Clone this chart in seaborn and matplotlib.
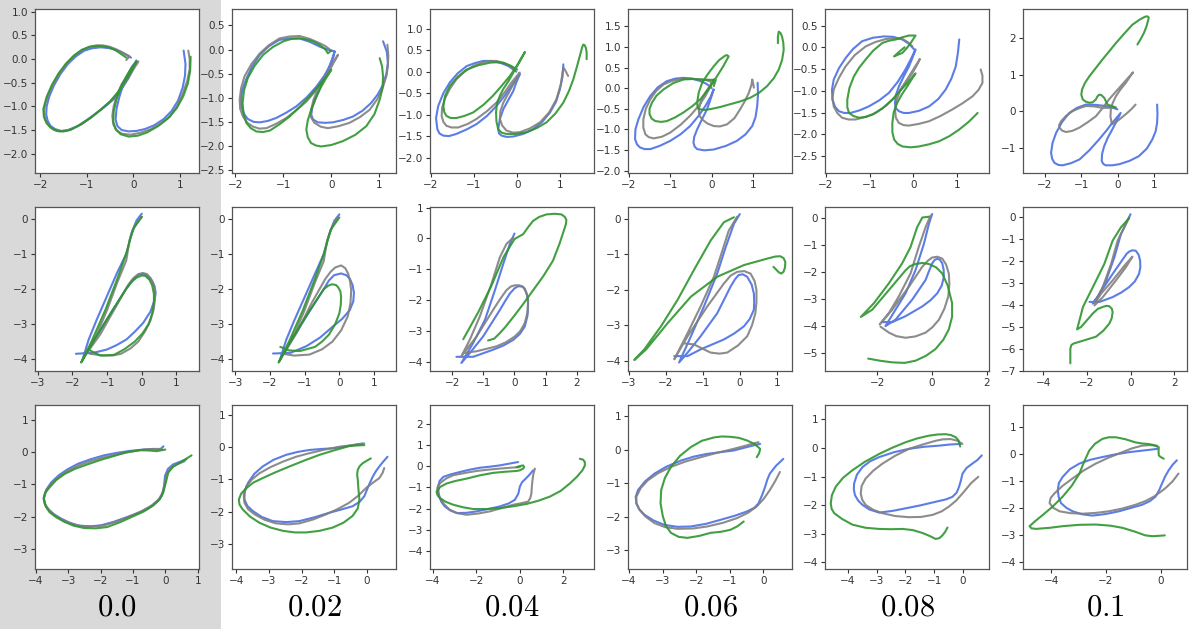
import matplotlib
matplotlib.use("Agg")
import matplotlib.pyplot as plt
from matplotlib.patches import Rectangle
from matplotlib.ticker import MultipleLocator
import pandas as pd
import seaborn as sns

sns.set_style("ticks")
plt.rcParams["font.family"] = ["DejaVu Sans"]
plt.rcParams["mathtext.fontset"] = "cm"

# noise level of each column
noise_labels = ["0.0", "0.02", "0.04", "0.06", "0.08", "0.1"]
series_names = ["blue", "gray", "green"]

# ---- row 1 : letter "a" ----
a0_blue = [(-0.05, 0.03), (-0.18, 0.11), (-0.3, 0.17), (-0.5, 0.23), (-0.7, 0.25), (-0.88, 0.23), (-1.05, 0.18), (-1.23, 0.06), (-1.4, -0.1), (-1.56, -0.31), (-1.7, -0.55), (-1.8, -0.78), (-1.86, -1.0), (-1.87, -1.17), (-1.84, -1.3), (-1.78, -1.41), (-1.68, -1.48), (-1.55, -1.52), (-1.4, -1.5), (-1.2, -1.42), (-1.0, -1.29), (-0.8, -1.15), (-0.6, -1.0), (-0.4, -0.83), (-0.23, -0.6), (-0.1, -0.4), (0.0, -0.2), (0.07, -0.03), (-0.02, -0.15), (-0.13, -0.35), (-0.22, -0.55), (-0.3, -0.8), (-0.36, -1.05), (-0.38, -1.28), (-0.34, -1.42), (-0.25, -1.5), (-0.1, -1.53), (0.07, -1.52), (0.25, -1.48), (0.45, -1.4), (0.65, -1.27), (0.82, -1.1), (0.96, -0.88), (1.06, -0.6), (1.11, -0.35), (1.12, -0.1), (1.08, 0.18)]
a0_gray = [(-0.15, -0.02), (-0.08, 0.06), (-0.2, 0.12), (-0.35, 0.2), (-0.5, 0.26), (-0.65, 0.29), (-0.8, 0.29), (-0.95, 0.26), (-1.1, 0.19), (-1.26, 0.08), (-1.41, -0.07), (-1.56, -0.27), (-1.70, -0.50), (-1.81, -0.72), (-1.89, -0.94), (-1.92, -1.12), (-1.89, -1.28), (-1.80, -1.42), (-1.70, -1.50), (-1.58, -1.53), (-1.45, -1.52), (-1.30, -1.47), (-1.1, -1.37), (-0.91, -1.24), (-0.70, -1.07), (-0.49, -0.89), (-0.30, -0.67), (-0.13, -0.43), (0.0, -0.22), (0.11, -0.05), (0.0, -0.17), (-0.12, -0.33), (-0.25, -0.53), (-0.35, -0.76), (-0.42, -0.99), (-0.45, -1.2), (-0.43, -1.38), (-0.36, -1.51), (-0.24, -1.58), (-0.06, -1.60), (0.15, -1.56), (0.36, -1.49), (0.58, -1.37), (0.79, -1.21), (0.95, -0.98), (1.07, -0.71), (1.16, -0.45), (1.21, -0.21), (1.21, 0.0), (1.18, 0.18)]
a0_green = [(-0.15, 0.03), (-0.28, 0.12), (-0.4, 0.2), (-0.57, 0.26), (-0.75, 0.28), (-0.93, 0.26), (-1.1, 0.2), (-1.28, 0.07), (-1.45, -0.1), (-1.61, -0.31), (-1.75, -0.55), (-1.86, -0.8), (-1.93, -1.05), (-1.92, -1.22), (-1.86, -1.36), (-1.76, -1.46), (-1.64, -1.52), (-1.5, -1.53), (-1.35, -1.5), (-1.12, -1.38), (-0.9, -1.23), (-0.7, -1.07), (-0.5, -0.9), (-0.33, -0.7), (-0.2, -0.5), (-0.05, -0.27), (0.07, -0.05), (-0.05, -0.2), (-0.15, -0.37), (-0.27, -0.6), (-0.36, -0.85), (-0.42, -1.1), (-0.43, -1.32), (-0.38, -1.48), (-0.27, -1.59), (-0.1, -1.64), (0.1, -1.62), (0.3, -1.55), (0.53, -1.42), (0.75, -1.25), (0.93, -1.04), (1.07, -0.79), (1.17, -0.52), (1.22, -0.25), (1.23, 0.05)]

a1_blue = [(0.07, -0.04), (-0.08, 0.0), (-0.24, 0.06), (-0.45, 0.16), (-0.66, 0.23), (-0.87, 0.23), (-1.08, 0.2), (-1.3, 0.07), (-1.49, -0.11), (-1.65, -0.35), (-1.78, -0.63), (-1.86, -0.85), (-1.88, -1.05), (-1.87, -1.2), (-1.81, -1.35), (-1.74, -1.44), (-1.62, -1.5), (-1.49, -1.51), (-1.32, -1.48), (-1.15, -1.42), (-0.94, -1.31), (-0.73, -1.18), (-0.51, -0.99), (-0.31, -0.77), (-0.15, -0.55), (-0.03, -0.35), (0.04, -0.18), (0.07, -0.04), (0.0, -0.25), (-0.1, -0.49), (-0.21, -0.73), (-0.31, -0.97), (-0.39, -1.18), (-0.42, -1.35), (-0.38, -1.45), (-0.28, -1.51), (-0.12, -1.52), (0.03, -1.51), (0.25, -1.46), (0.45, -1.39), (0.65, -1.27), (0.83, -1.11), (0.97, -0.93), (1.08, -0.73), (1.15, -0.5), (1.18, -0.28), (1.16, -0.05), (1.08, 0.17)]
a1_gray = [(-0.03, 0.0), (-0.12, 0.07), (-0.24, 0.13), (-0.45, 0.22), (-0.66, 0.28), (-0.87, 0.27), (-1.08, 0.23), (-1.3, 0.09), (-1.49, -0.08), (-1.67, -0.31), (-1.81, -0.56), (-1.88, -0.8), (-1.91, -1.04), (-1.9, -1.23), (-1.84, -1.39), (-1.75, -1.52), (-1.63, -1.6), (-1.5, -1.64), (-1.35, -1.63), (-1.15, -1.54), (-0.94, -1.42), (-0.73, -1.26), (-0.52, -1.08), (-0.33, -0.86), (-0.17, -0.63), (-0.01, -0.37), (0.14, -0.11), (0.05, -0.26), (-0.03, -0.42), (-0.16, -0.62), (-0.28, -0.83), (-0.37, -1.04), (-0.42, -1.25), (-0.42, -1.41), (-0.35, -1.52), (-0.22, -1.6), (-0.07, -1.63), (0.15, -1.59), (0.38, -1.52), (0.6, -1.4), (0.8, -1.25), (0.96, -1.03), (1.08, -0.77), (1.15, -0.55), (1.18, -0.35), (1.19, -0.12), (1.17, 0.1)]
a1_green = [(0.0, -0.02), (-0.07, -0.08), (-0.12, 0.0), (-0.25, 0.1), (-0.38, 0.17), (-0.52, 0.21), (-0.66, 0.23), (-0.83, 0.22), (-1.0, 0.17), (-1.22, 0.05), (-1.42, -0.11), (-1.6, -0.34), (-1.74, -0.59), (-1.82, -0.85), (-1.85, -1.11), (-1.83, -1.33), (-1.77, -1.52), (-1.68, -1.63), (-1.56, -1.7), (-1.42, -1.71), (-1.28, -1.68), (-1.08, -1.55), (-0.87, -1.39), (-0.66, -1.19), (-0.45, -0.97), (-0.27, -0.76), (-0.1, -0.56), (0.0, -0.42), (-0.1, -0.58), (-0.21, -0.77), (-0.32, -1.0), (-0.42, -1.25), (-0.49, -1.47), (-0.52, -1.66), (-0.49, -1.82), (-0.42, -1.94), (-0.32, -1.99), (-0.21, -2.01), (0.0, -1.98), (0.24, -1.9), (0.5, -1.77), (0.73, -1.59), (0.9, -1.34), (1.01, -1.04), (1.07, -0.8), (1.08, -0.56), (1.06, -0.35), (1.01, -0.18)]

a2_blue = [(-0.02, 0.0), (-0.2, 0.13), (-0.4, 0.21), (-0.6, 0.25), (-0.79, 0.25), (-0.98, 0.2), (-1.17, 0.13), (-1.38, -0.04), (-1.56, -0.25), (-1.71, -0.5), (-1.83, -0.8), (-1.88, -1.08), (-1.85, -1.34), (-1.8, -1.44), (-1.71, -1.49), (-1.58, -1.5), (-1.41, -1.45), (-1.18, -1.35), (-0.94, -1.22), (-0.7, -1.03), (-0.48, -0.8), (-0.29, -0.56), (-0.13, -0.33), (0.06, -0.06), (-0.02, -0.25), (-0.09, -0.45), (-0.2, -0.65), (-0.32, -0.87), (-0.4, -1.1), (-0.44, -1.34), (-0.42, -1.44), (-0.36, -1.49), (-0.24, -1.52), (-0.09, -1.51), (0.14, -1.45), (0.37, -1.34), (0.58, -1.17), (0.76, -0.95), (0.9, -0.7), (0.99, -0.41), (1.05, -0.12), (1.07, 0.17)]
a2_gray = [(-0.05, 0.05), (-0.18, 0.14), (-0.32, 0.21), (-0.48, 0.25), (-0.63, 0.25), (-0.82, 0.21), (-1.02, 0.13), (-1.22, 0.0), (-1.41, -0.18), (-1.56, -0.4), (-1.68, -0.64), (-1.74, -0.85), (-1.75, -1.03), (-1.71, -1.17), (-1.64, -1.26), (-1.52, -1.3), (-1.37, -1.3), (-1.15, -1.22), (-0.94, -1.1), (-0.7, -0.92), (-0.48, -0.72), (-0.29, -0.48), (-0.13, -0.25), (0.06, -0.02), (-0.01, -0.15), (-0.09, -0.29), (-0.2, -0.5), (-0.32, -0.72), (-0.39, -0.92), (-0.4, -1.1), (-0.35, -1.25), (-0.25, -1.37), (-0.1, -1.42), (0.06, -1.41), (0.3, -1.32), (0.53, -1.18), (0.74, -0.95), (0.91, -0.64), (1.01, -0.3), (1.07, 0.1), (1.12, 0.02), (1.18, -0.1)]
a2_green = [(0.0, 0.05), (-0.15, 0.14), (-0.3, 0.2), (-0.47, 0.22), (-0.63, 0.21), (-0.9, 0.15), (-1.17, 0.05), (-1.38, -0.12), (-1.56, -0.33), (-1.67, -0.56), (-1.71, -0.8), (-1.69, -0.94), (-1.64, -1.03), (-1.54, -1.08), (-1.41, -1.08), (-1.22, -1.03), (-1.02, -0.95), (-0.78, -0.77), (-0.56, -0.56), (-0.36, -0.33), (-0.17, -0.1), (0.0, 0.15), (0.18, 0.46), (0.05, 0.22), (-0.05, 0.05), (-0.2, -0.22), (-0.32, -0.4), (-0.4, -0.56), (-0.47, -0.75), (-0.49, -0.95), (-0.48, -1.16), (-0.44, -1.34), (-0.36, -1.42), (-0.25, -1.45), (-0.02, -1.45), (0.22, -1.41), (0.46, -1.31), (0.68, -1.18), (0.89, -0.97), (1.07, -0.72), (1.2, -0.45), (1.3, -0.18), (1.38, 0.1), (1.45, 0.36), (1.5, 0.55), (1.53, 0.63), (1.56, 0.62), (1.59, 0.56), (1.61, 0.45), (1.61, 0.29)]

a3_blue = [(0.0, 0.0), (-0.12, 0.1), (-0.27, 0.17), (-0.47, 0.23), (-0.68, 0.25), (-0.88, 0.23), (-1.08, 0.17), (-1.3, 0.02), (-1.48, -0.19), (-1.64, -0.45), (-1.77, -0.76), (-1.84, -1.0), (-1.85, -1.24), (-1.8, -1.37), (-1.73, -1.44), (-1.62, -1.48), (-1.48, -1.48), (-1.25, -1.4), (-1.0, -1.28), (-0.75, -1.12), (-0.52, -0.92), (-0.32, -0.68), (-0.15, -0.43), (-0.03, -0.22), (0.05, -0.03), (-0.02, -0.25), (-0.11, -0.51), (-0.23, -0.75), (-0.35, -1.0), (-0.42, -1.18), (-0.44, -1.32), (-0.41, -1.42), (-0.35, -1.48), (-0.18, -1.51), (0.05, -1.49), (0.35, -1.4), (0.61, -1.28), (0.82, -1.12), (0.98, -0.92), (1.06, -0.7), (1.1, -0.43), (1.12, -0.15), (1.11, 0.13)]
a3_gray = [(0.0, 0.15), (-0.12, 0.19), (-0.27, 0.21), (-0.5, 0.23), (-0.76, 0.22), (-0.97, 0.17), (-1.16, 0.09), (-1.34, -0.07), (-1.48, -0.27), (-1.59, -0.5), (-1.65, -0.76), (-1.65, -0.96), (-1.6, -1.12), (-1.52, -1.19), (-1.4, -1.22), (-1.2, -1.18), (-1.0, -1.08), (-0.75, -0.89), (-0.52, -0.67), (-0.32, -0.44), (-0.15, -0.19), (-0.04, 0.02), (0.05, 0.21), (-0.04, 0.06), (-0.15, -0.11), (-0.25, -0.3), (-0.31, -0.51), (-0.3, -0.66), (-0.23, -0.76), (-0.1, -0.86), (0.05, -0.92), (0.2, -0.93), (0.37, -0.88), (0.55, -0.73), (0.69, -0.51), (0.81, -0.3), (0.9, -0.11), (0.96, 0.08), (0.98, 0.21), (1.0, 0.12), (1.02, 0.01)]
a3_green = [(0.05, 0.05), (0.1, 0.2), (0.0, 0.2), (-0.27, 0.21), (-0.48, 0.22), (-0.68, 0.21), (-0.93, 0.12), (-1.16, -0.03), (-1.33, -0.18), (-1.44, -0.35), (-1.5, -0.5), (-1.5, -0.63), (-1.45, -0.74), (-1.36, -0.8), (-1.22, -0.82), (-1.08, -0.8), (-0.88, -0.71), (-0.68, -0.59), (-0.47, -0.44), (-0.27, -0.27), (-0.06, 0.0), (0.13, 0.29), (0.28, 0.53), (0.41, 0.77), (0.37, 0.8), (0.33, 0.79), (0.18, 0.68), (0.05, 0.53), (-0.1, 0.33), (-0.23, 0.13), (-0.31, -0.1), (-0.35, -0.35), (-0.34, -0.45), (-0.31, -0.51), (-0.18, -0.53), (-0.03, -0.51), (0.2, -0.46), (0.45, -0.39), (0.7, -0.32), (0.94, -0.23), (1.15, -0.11), (1.34, 0.05), (1.5, 0.24), (1.62, 0.45), (1.7, 0.68), (1.74, 0.93), (1.73, 1.1), (1.7, 1.25), (1.66, 1.34), (1.62, 1.37), (1.6, 1.25), (1.6, 1.09)]

a4_blue = [(0.02, -0.05), (-0.1, 0.08), (-0.25, 0.18), (-0.46, 0.24), (-0.67, 0.25), (-0.92, 0.22), (-1.17, 0.14), (-1.38, -0.04), (-1.55, -0.25), (-1.7, -0.48), (-1.82, -0.74), (-1.86, -0.97), (-1.85, -1.2), (-1.79, -1.37), (-1.7, -1.47), (-1.58, -1.51), (-1.44, -1.51), (-1.23, -1.45), (-1.02, -1.36), (-0.78, -1.22), (-0.56, -1.05), (-0.36, -0.8), (-0.18, -0.51), (-0.05, -0.26), (0.05, -0.05), (-0.02, -0.24), (-0.1, -0.44), (-0.22, -0.67), (-0.33, -0.9), (-0.4, -1.1), (-0.42, -1.28), (-0.4, -1.4), (-0.33, -1.47), (-0.22, -1.51), (-0.1, -1.51), (0.13, -1.46), (0.36, -1.36), (0.57, -1.19), (0.74, -0.97), (0.87, -0.72), (0.97, -0.44), (1.02, -0.12), (1.05, 0.18)]
a4_gray = [(-0.02, 0.02), (-0.13, 0.12), (-0.25, 0.19), (-0.44, 0.21), (-0.63, 0.19), (-0.87, 0.12), (-1.09, 0.02), (-1.34, -0.18), (-1.55, -0.44), (-1.7, -0.7), (-1.82, -0.97), (-1.85, -1.17), (-1.82, -1.36), (-1.74, -1.51), (-1.63, -1.62), (-1.48, -1.66), (-1.32, -1.66), (-1.09, -1.6), (-0.86, -1.51), (-0.62, -1.34), (-0.4, -1.13), (-0.24, -0.9), (-0.1, -0.67), (0.03, -0.46), (0.15, -0.27), (0.07, -0.43), (-0.02, -0.59), (-0.15, -0.77), (-0.29, -0.97), (-0.38, -1.2), (-0.42, -1.43), (-0.4, -1.62), (-0.33, -1.74), (-0.22, -1.79), (-0.1, -1.8), (0.13, -1.76), (0.36, -1.7), (0.62, -1.58), (0.89, -1.43), (1.12, -1.29), (1.35, -1.13), (1.49, -0.98), (1.58, -0.82), (1.58, -0.65), (1.54, -0.51)]
a4_green = [(-0.2, 0.0), (-0.32, -0.1), (-0.44, -0.21), (-0.35, -0.17), (-0.25, -0.13), (-0.15, -0.02), (-0.06, 0.1), (0.05, 0.27), (-0.1, 0.27), (-0.25, 0.23), (-0.4, 0.18), (-0.56, 0.15), (-0.71, 0.1), (-0.92, -0.08), (-1.09, -0.28), (-1.24, -0.47), (-1.36, -0.67), (-1.46, -0.93), (-1.51, -1.2), (-1.51, -1.38), (-1.47, -1.51), (-1.37, -1.58), (-1.24, -1.62), (-1.09, -1.6), (-0.94, -1.55), (-0.7, -1.4), (-0.48, -1.2), (-0.3, -1.0), (-0.14, -0.82), (0.05, -0.6), (-0.04, -0.74), (-0.14, -0.9), (-0.26, -1.08), (-0.37, -1.28), (-0.45, -1.5), (-0.48, -1.74), (-0.48, -1.95), (-0.44, -2.12), (-0.36, -2.22), (-0.25, -2.28), (-0.06, -2.3), (0.13, -2.28), (0.36, -2.23), (0.59, -2.16), (0.83, -2.04), (1.05, -1.89), (1.27, -1.71), (1.47, -1.51)]

a5_blue = [(-0.01, 0.05), (-0.16, 0.1), (-0.33, 0.14), (-0.6, 0.17), (-0.87, 0.18), (-1.12, 0.09), (-1.33, -0.05), (-1.53, -0.3), (-1.69, -0.59), (-1.79, -0.87), (-1.83, -1.14), (-1.8, -1.3), (-1.74, -1.41), (-1.63, -1.47), (-1.51, -1.48), (-1.28, -1.42), (-1.05, -1.32), (-0.78, -1.07), (-0.51, -0.77), (-0.31, -0.53), (-0.15, -0.32), (0.08, -0.05), (-0.03, -0.27), (-0.15, -0.5), (-0.27, -0.72), (-0.37, -0.95), (-0.43, -1.17), (-0.44, -1.36), (-0.4, -1.44), (-0.33, -1.48), (-0.15, -1.48), (0.04, -1.45), (0.32, -1.36), (0.58, -1.23), (0.8, -1.02), (0.95, -0.77), (1.04, -0.55), (1.08, -0.32), (1.09, -0.07), (1.08, 0.18)]
a5_gray = [(-0.1, 0.1), (-0.25, 0.09), (-0.42, 0.09), (-0.65, 0.13), (-0.87, 0.14), (-1.06, 0.08), (-1.24, 0.0), (-1.42, -0.13), (-1.55, -0.27), (-1.61, -0.38), (-1.6, -0.45), (-1.53, -0.53), (-1.42, -0.57), (-1.25, -0.54), (-1.05, -0.45), (-0.82, -0.3), (-0.6, -0.14), (-0.42, 0.08), (-0.24, 0.32), (-0.08, 0.5), (0.08, 0.68), (0.25, 0.87), (0.42, 1.06), (0.32, 0.92), (0.22, 0.77), (0.08, 0.6), (-0.05, 0.41), (-0.14, 0.22), (-0.19, 0.05), (-0.2, -0.15), (-0.16, -0.36), (-0.05, -0.3), (0.04, -0.23), (0.15, -0.14), (0.26, -0.05), (0.38, 0.06), (0.49, 0.18)]
a5_green = [(-0.05, 0.1), (-0.17, 0.14), (-0.28, 0.18), (-0.37, 0.36), (-0.45, 0.44), (-0.51, 0.45), (-0.56, 0.4), (-0.6, 0.32), (-0.69, 0.24), (-0.78, 0.23), (-0.88, 0.26), (-0.96, 0.32), (-1.0, 0.45), (-0.98, 0.59), (-0.9, 0.77), (-0.78, 0.95), (-0.6, 1.18), (-0.42, 1.41), (-0.23, 1.64), (-0.05, 1.86), (0.18, 2.12), (0.4, 2.36), (0.6, 2.5), (0.75, 2.58), (0.81, 2.59), (0.85, 2.56), (0.84, 2.5), (0.79, 2.32), (0.72, 2.14), (0.63, 1.97), (0.54, 1.82)]

# ---- row 2 : letter "b" ----
b0_blue = [(0.0, 0.14), (-0.15, -0.05), (-0.3, -0.42), (-0.44, -0.99), (-0.72, -1.56), (-1.01, -2.22), (-1.3, -2.88), (-1.53, -3.44), (-1.72, -4.05), (-1.4, -3.5), (-0.9, -2.7), (-0.45, -2.0), (-0.25, -1.75), (-0.1, -1.6), (0.05, -1.57), (0.18, -1.65), (0.3, -1.78), (0.37, -1.93), (0.4, -2.12), (0.37, -2.31), (0.25, -2.65), (0.04, -2.97), (-0.2, -3.22), (-0.44, -3.44), (-0.72, -3.6), (-1.01, -3.73), (-1.39, -3.82), (-1.9, -3.85)]
b0_gray = [(-0.05, 0.05), (0.0, 0.05), (-0.2, -0.2), (-0.35, -0.6), (-0.45, -1.2), (-0.7, -1.8), (-1.0, -2.6), (-1.3, -3.3), (-1.6, -3.85), (-1.2, -3.3), (-0.8, -2.6), (-0.4, -1.9), (-0.25, -1.7), (-0.1, -1.58), (0.03, -1.55), (0.15, -1.58), (0.26, -1.7), (0.33, -1.85), (0.38, -2.05), (0.38, -2.3), (0.34, -2.6), (0.25, -2.9), (0.1, -3.2), (-0.1, -3.5), (-0.33, -3.7), (-0.6, -3.85), (-0.85, -3.9), (-1.1, -3.9), (-1.5, -3.85)]
b0_green = [(0.0, 0.05), (-0.25, -0.3), (-0.45, -1.0), (-0.7, -1.7), (-1.05, -2.6), (-1.45, -3.5), (-1.75, -4.1), (-1.4, -3.5), (-0.9, -2.7), (-0.45, -2.0), (-0.3, -1.8), (-0.15, -1.68), (0.0, -1.62), (0.1, -1.63), (0.22, -1.74), (0.3, -1.9), (0.35, -2.15), (0.35, -2.4), (0.3, -2.7), (0.2, -3.0), (0.02, -3.27), (-0.2, -3.5), (-0.5, -3.72), (-0.8, -3.88), (-1.2, -3.9), (-1.5, -3.75)]

b1_blue = [(0.0, 0.14), (-0.15, -0.05), (-0.3, -0.45), (-0.45, -1.0), (-0.72, -1.6), (-1.01, -2.25), (-1.3, -2.9), (-1.53, -3.45), (-1.72, -4.05), (-1.4, -3.5), (-0.9, -2.7), (-0.45, -2.0), (-0.3, -1.75), (-0.15, -1.6), (0.05, -1.55), (0.2, -1.6), (0.3, -1.7), (0.38, -1.88), (0.42, -2.1), (0.4, -2.35), (0.3, -2.6), (0.08, -2.85), (-0.19, -3.07), (-0.55, -3.38), (-0.95, -3.63), (-1.4, -3.82), (-1.91, -3.84)]
b1_gray = [(-0.05, 0.05), (-0.2, -0.2), (-0.35, -0.6), (-0.45, -1.2), (-0.7, -1.8), (-1.0, -2.6), (-1.3, -3.3), (-1.6, -3.85), (-1.2, -3.2), (-0.8, -2.4), (-0.4, -1.7), (-0.25, -1.5), (-0.12, -1.38), (0.05, -1.32), (0.17, -1.4), (0.25, -1.55), (0.31, -1.78), (0.34, -2.03), (0.32, -2.4), (0.24, -2.78), (0.05, -3.18), (-0.2, -3.5), (-0.5, -3.72), (-0.86, -3.87), (-1.3, -3.9), (-1.6, -3.85)]
b1_green = [(0.0, 0.05), (-0.25, -0.3), (-0.45, -1.0), (-0.7, -1.7), (-1.05, -2.6), (-1.45, -3.5), (-1.75, -4.1), (-1.35, -3.4), (-0.85, -2.6), (-0.45, -2.0), (-0.32, -1.9), (-0.21, -1.86), (-0.1, -1.88), (-0.03, -1.95), (0.03, -2.07), (0.05, -2.22), (0.04, -2.45), (0.0, -2.69), (-0.12, -3.0), (-0.3, -3.3), (-0.5, -3.5), (-0.7, -3.65), (-1.14, -3.77), (-1.45, -3.75), (-1.7, -3.65)]

b2_blue = [(0.0, 0.16), (-0.15, -0.18), (-0.36, -0.82), (-0.63, -1.68), (-0.95, -2.64), (-1.33, -3.39), (-1.71, -4.04), (-1.44, -3.72), (-1.01, -3.18), (-0.47, -2.32), (-0.3, -2.03), (-0.15, -1.79), (0.0, -1.62), (0.12, -1.55), (0.25, -1.56), (0.33, -1.63), (0.41, -1.85), (0.44, -2.11), (0.42, -2.5), (0.33, -2.86), (0.17, -3.1), (-0.04, -3.29), (-0.35, -3.47), (-0.69, -3.61), (-1.33, -3.84), (-1.87, -3.84)]
b2_gray = [(-0.04, 0.03), (-0.26, -0.18), (-0.47, -0.61), (-0.74, -1.47), (-1.12, -2.54), (-1.44, -3.29), (-1.71, -3.82), (-1.22, -3.18), (-0.69, -2.32), (-0.45, -1.95), (-0.26, -1.68), (-0.12, -1.56), (0.01, -1.52), (0.15, -1.52), (0.28, -1.57), (0.38, -1.75), (0.44, -2.0), (0.42, -2.4), (0.33, -2.75), (0.19, -3.0), (0.01, -3.18), (-0.28, -3.37), (-0.58, -3.5), (-1.22, -3.66), (-1.65, -3.72)]
b2_green = [(-1.65, -3.27), (-1.17, -2.4), (-0.75, -1.55), (-0.35, -0.6), (0.0, -0.02), (0.28, 0.14), (0.45, 0.38), (0.6, 0.57), (0.8, 0.7), (1.03, 0.78), (1.3, 0.8), (1.51, 0.78), (1.62, 0.7), (1.67, 0.6), (1.66, 0.48), (1.62, 0.35), (1.45, -0.17), (1.24, -0.72), (0.93, -1.22), (0.6, -1.68), (0.3, -2.1), (0.0, -2.5), (-0.3, -2.88), (-0.5, -3.1), (-0.65, -3.25), (-0.85, -3.31)]

b3_blue = [(0.0, 0.14), (-0.16, -0.14), (-0.38, -0.79), (-0.61, -1.54), (-0.97, -2.47), (-1.32, -3.31), (-1.64, -4.05), (-1.41, -3.77), (-1.06, -3.31), (-0.61, -2.66), (-0.25, -1.91), (-0.13, -1.7), (-0.03, -1.58), (0.08, -1.56), (0.2, -1.63), (0.32, -1.85), (0.38, -2.1), (0.39, -2.35), (0.38, -2.56), (0.27, -2.82), (0.11, -3.03), (-0.15, -3.23), (-0.43, -3.4), (-1.06, -3.68), (-1.41, -3.87), (-1.77, -3.87)]
b3_gray = [(-0.07, 0.07), (-0.3, -0.33), (-0.47, -0.89), (-0.7, -1.63), (-1.06, -2.47), (-1.41, -3.22), (-1.77, -3.96), (-1.41, -3.31), (-0.88, -2.47), (-0.43, -1.82), (-0.25, -1.6), (-0.07, -1.49), (0.12, -1.47), (0.29, -1.54), (0.4, -1.75), (0.45, -2.0), (0.45, -2.35), (0.42, -2.66), (0.33, -3.0), (0.2, -3.31), (-0.05, -3.57), (-0.34, -3.77), (-0.55, -3.8), (-0.79, -3.77), (-1.24, -3.54), (-1.5, -3.51)]
b3_green = [(-0.16, 0.05), (-0.43, -0.09), (-0.79, -0.61), (-1.24, -1.44), (-1.68, -2.28), (-2.13, -3.03), (-2.58, -3.68), (-2.85, -3.98), (-2.53, -3.68), (-1.95, -2.94), (-1.32, -2.19), (-0.61, -1.63), (0.11, -1.3), (0.73, -1.12), (0.95, -1.06), (1.09, -1.05), (1.18, -1.1), (1.23, -1.21), (1.22, -1.37), (1.18, -1.49), (1.12, -1.54), (1.05, -1.5), (0.91, -1.35)]

b4_blue = [(0.01, 0.15), (-0.11, -0.22), (-0.29, -0.95), (-0.6, -1.93), (-0.96, -2.78), (-1.33, -3.39), (-1.7, -4.0), (-1.33, -3.76), (-0.72, -3.02), (-0.23, -2.29), (-0.1, -1.95), (0.01, -1.68), (0.1, -1.55), (0.2, -1.5), (0.3, -1.55), (0.38, -1.68), (0.43, -1.9), (0.44, -2.17), (0.36, -2.5), (0.2, -2.78), (-0.05, -3.04), (-0.35, -3.27), (-0.96, -3.63), (-1.45, -3.85), (-1.82, -3.85)]
b4_gray = [(-0.05, 0.09), (-0.23, -0.34), (-0.48, -1.07), (-0.78, -2.05), (-1.21, -2.9), (-1.57, -3.51), (-1.91, -3.94), (-1.45, -3.39), (-0.84, -2.54), (-0.35, -1.8), (-0.15, -1.58), (0.01, -1.46), (0.2, -1.43), (0.38, -1.5), (0.52, -1.72), (0.62, -2.05), (0.64, -2.45), (0.6, -2.9), (0.46, -3.35), (0.26, -3.76), (0.02, -4.04), (-0.23, -4.24), (-0.6, -4.38), (-0.96, -4.43), (-1.3, -4.37), (-1.57, -4.24), (-1.88, -4.02)]
b4_green = [(-0.11, 0.05), (-0.35, 0.02), (-0.54, -0.34), (-0.78, -1.07), (-1.09, -1.68), (-1.57, -2.41), (-2.12, -3.15), (-2.6, -3.66), (-2.18, -3.39), (-1.57, -2.66), (-0.96, -1.93), (-0.8, -1.78), (-0.6, -1.7), (-0.35, -1.66), (-0.11, -1.7), (0.15, -1.82), (0.38, -2.05), (0.58, -2.5), (0.74, -3.15), (0.74, -3.65), (0.62, -4.12), (0.42, -4.5), (0.13, -4.85), (-0.22, -5.1), (-0.6, -5.28), (-1.0, -5.36), (-1.45, -5.34), (-1.9, -5.28), (-2.33, -5.2)]

b5_blue = [(0.0, 0.15), (-0.14, -0.15), (-0.44, -0.76), (-0.74, -1.82), (-1.12, -2.88), (-1.5, -3.64), (-1.73, -3.94), (-1.42, -3.48), (-0.82, -2.58), (-0.29, -1.82), (-0.17, -1.65), (-0.06, -1.56), (0.08, -1.5), (0.24, -1.52), (0.37, -1.7), (0.44, -1.97), (0.45, -2.28), (0.39, -2.58), (0.2, -2.92), (-0.06, -3.18), (-0.42, -3.43), (-0.82, -3.64), (-1.42, -3.86), (-1.88, -3.86)]
b5_gray = [(-0.06, 0.03), (-0.29, -0.45), (-0.59, -1.06), (-0.89, -2.12), (-1.27, -3.18), (-1.65, -3.94), (-1.35, -3.48), (-0.82, -2.88), (-0.21, -2.12), (0.09, -1.79), (-0.21, -2.27), (-0.67, -2.88), (-1.27, -3.64), (-1.65, -4.02)]
b5_green = [(-0.06, -0.03), (-0.44, -0.45), (-0.82, -1.06), (-1.2, -2.12), (-1.65, -3.03), (-2.18, -4.09), (-2.45, -5.12), (-2.26, -5.0), (-1.73, -4.39), (-1.5, -4.18), (-1.27, -4.09), (-1.1, -4.04), (-0.97, -4.06), (-0.86, -4.17), (-0.82, -4.32), (-0.86, -4.6), (-0.97, -4.85), (-1.25, -5.18), (-1.58, -5.45), (-2.33, -5.68), (-2.6, -5.76), (-2.71, -5.83), (-2.76, -6.0), (-2.76, -6.21), (-2.76, -6.67)]

# ---- row 3 : open loop ----
c0_blue = [(-0.06, 0.18), (-0.16, 0.08), (-0.4, 0.09), (-0.67, 0.08), (-1.08, 0.04), (-1.49, -0.02), (-1.9, -0.1), (-2.31, -0.22), (-2.7, -0.36), (-3.02, -0.53), (-3.3, -0.72), (-3.53, -0.94), (-3.68, -1.16), (-3.76, -1.4), (-3.73, -1.6), (-3.63, -1.76), (-3.45, -1.92), (-3.22, -2.06), (-2.97, -2.18), (-2.71, -2.27), (-2.35, -2.3), (-2.0, -2.27), (-1.6, -2.16), (-1.18, -2.01), (-0.8, -1.87), (-0.47, -1.7), (-0.25, -1.53), (-0.11, -1.35), (-0.04, -1.05), (-0.01, -0.73), (0.08, -0.52), (0.24, -0.38), (0.45, -0.3), (0.65, -0.22)]
c0_gray = [(-0.11, 0.1), (-0.4, 0.1), (-0.67, 0.08), (-1.08, 0.01), (-1.49, -0.07), (-1.9, -0.16), (-2.31, -0.28), (-2.7, -0.42), (-3.02, -0.58), (-3.3, -0.77), (-3.53, -0.99), (-3.69, -1.2), (-3.76, -1.45), (-3.7, -1.65), (-3.58, -1.81), (-3.4, -1.97), (-3.17, -2.11), (-2.9, -2.22), (-2.61, -2.29), (-2.25, -2.3), (-1.9, -2.27), (-1.5, -2.15), (-1.08, -1.98), (-0.72, -1.82), (-0.42, -1.65), (-0.2, -1.46), (-0.08, -1.24), (-0.01, -0.95), (0.04, -0.68), (0.17, -0.5), (0.35, -0.38), (0.6, -0.28)]
c0_green = [(0.0, 0.08), (-0.27, 0.03), (-0.5, 0.05), (-0.78, 0.06), (-1.2, 0.0), (-1.59, -0.12), (-2.0, -0.24), (-2.41, -0.38), (-2.8, -0.52), (-3.12, -0.68), (-3.38, -0.87), (-3.58, -1.09), (-3.72, -1.27), (-3.76, -1.45), (-3.7, -1.68), (-3.58, -1.86), (-3.37, -2.02), (-3.12, -2.16), (-2.83, -2.28), (-2.51, -2.35), (-2.15, -2.36), (-1.8, -2.32), (-1.4, -2.17), (-0.98, -1.98), (-0.65, -1.83), (-0.37, -1.65), (-0.17, -1.46), (-0.06, -1.24), (0.02, -0.92), (0.09, -0.63), (0.24, -0.45), (0.45, -0.33), (0.81, -0.1)]

c1_blue = [(-0.13, 0.11), (-0.6, 0.03), (-1.05, -0.04), (-1.4, -0.06), (-1.76, -0.09), (-2.12, -0.15), (-2.47, -0.24), (-2.85, -0.39), (-3.19, -0.6), (-3.45, -0.83), (-3.64, -1.11), (-3.74, -1.36), (-3.75, -1.62), (-3.66, -1.82), (-3.49, -1.98), (-3.22, -2.16), (-2.88, -2.29), (-2.47, -2.32), (-2.07, -2.29), (-1.6, -2.17), (-1.15, -2.03), (-0.78, -1.93), (-0.44, -1.83), (-0.22, -1.69), (-0.08, -1.52), (0.05, -1.2), (0.18, -0.91), (0.28, -0.74), (0.38, -0.6), (0.5, -0.45), (0.63, -0.3)]
c1_gray = [(-0.08, 0.11), (-0.45, 0.06), (-0.84, 0.01), (-1.3, -0.08), (-1.76, -0.19), (-2.17, -0.3), (-2.57, -0.45), (-2.95, -0.62), (-3.29, -0.81), (-3.52, -1.0), (-3.69, -1.21), (-3.77, -1.47), (-3.75, -1.72), (-3.64, -1.92), (-3.44, -2.08), (-3.13, -2.25), (-2.78, -2.36), (-2.42, -2.39), (-2.07, -2.36), (-1.65, -2.24), (-1.25, -2.08), (-0.88, -1.91), (-0.54, -1.72), (-0.26, -1.5), (-0.03, -1.27), (0.2, -1.09), (0.38, -0.96), (0.48, -0.8), (0.53, -0.65)]
c1_green = [(-0.08, 0.06), (-0.3, 0.05), (-0.54, 0.03), (-1.0, -0.1), (-1.45, -0.24), (-1.9, -0.41), (-2.37, -0.6), (-2.8, -0.78), (-3.19, -0.96), (-3.48, -1.1), (-3.69, -1.27), (-3.85, -1.44), (-3.92, -1.62), (-3.9, -1.78), (-3.8, -1.93), (-3.58, -2.15), (-3.29, -2.34), (-2.95, -2.49), (-2.57, -2.59), (-2.2, -2.64), (-1.86, -2.64), (-1.45, -2.59), (-1.05, -2.49), (-0.72, -2.34), (-0.44, -2.13), (-0.28, -1.9), (-0.23, -1.62), (-0.26, -1.3), (-0.28, -1.01), (-0.3, -0.85), (-0.28, -0.7), (-0.22, -0.59), (-0.13, -0.5), (0.0, -0.42), (0.12, -0.35)]

c2_blue = [(-0.08, 0.19), (-0.5, 0.11), (-0.92, 0.03), (-1.38, -0.03), (-1.83, -0.08), (-2.3, -0.17), (-2.75, -0.28), (-3.2, -0.4), (-3.51, -0.51), (-3.68, -0.7), (-3.74, -0.97), (-3.73, -1.22), (-3.69, -1.44), (-3.6, -1.68), (-3.44, -1.9), (-3.2, -2.08), (-2.9, -2.21), (-2.45, -2.2), (-1.98, -2.13), (-1.45, -2.02), (-0.92, -1.9), (-0.52, -1.76), (-0.23, -1.59), (-0.07, -1.3), (0.0, -0.97), (0.1, -0.76), (0.27, -0.59), (0.45, -0.4), (0.61, -0.2)]
c2_gray = [(0.0, -0.05), (-0.45, -0.08), (-0.92, -0.12), (-1.45, -0.17), (-1.98, -0.23), (-2.5, -0.32), (-3.05, -0.43), (-3.35, -0.57), (-3.59, -0.74), (-3.74, -0.9), (-3.79, -1.05), (-3.76, -1.28), (-3.66, -1.51), (-3.47, -1.8), (-3.21, -2.06), (-2.85, -2.22), (-2.44, -2.29), (-1.9, -2.23), (-1.37, -2.13), (-0.85, -1.98), (-0.31, -1.82), (0.05, -1.75), (0.38, -1.67), (0.48, -1.5), (0.53, -1.28), (0.55, -0.97), (0.58, -0.66), (0.62, -0.38), (0.69, -0.12)]
c2_green = [(-0.15, -0.05), (0.0, 0.0), (0.15, 0.03), (0.2, -0.05), (0.15, -0.12), (0.0, -0.2), (-0.15, -0.23), (-0.7, -0.27), (-1.22, -0.32), (-1.85, -0.44), (-2.44, -0.59), (-2.95, -0.7), (-3.36, -0.82), (-3.65, -0.98), (-3.82, -1.21), (-3.77, -1.38), (-3.66, -1.51), (-3.4, -1.68), (-3.05, -1.82), (-2.6, -1.94), (-2.14, -2.02), (-1.5, -2.02), (-0.92, -1.98), (-0.3, -1.89), (0.31, -1.78), (0.85, -1.63), (1.37, -1.44), (1.87, -1.17), (2.29, -0.82), (2.62, -0.5), (2.87, -0.2), (2.98, 0.02), (2.98, 0.19), (2.9, 0.3), (2.75, 0.34)]

c3_blue = [(-0.09, 0.18), (-0.5, 0.08), (-0.88, -0.02), (-1.28, -0.07), (-1.67, -0.12), (-2.06, -0.2), (-2.45, -0.32), (-2.88, -0.5), (-3.24, -0.71), (-3.52, -0.94), (-3.73, -1.2), (-3.8, -1.4), (-3.78, -1.6), (-3.69, -1.78), (-3.54, -1.94), (-3.27, -2.11), (-2.95, -2.24), (-2.56, -2.3), (-2.16, -2.29), (-1.7, -2.21), (-1.27, -2.09), (-0.85, -1.97), (-0.48, -1.84), (-0.26, -1.73), (-0.14, -1.6), (-0.03, -1.35), (0.06, -1.1), (0.12, -0.9), (0.2, -0.71), (0.38, -0.48), (0.6, -0.27)]
c3_gray = [(-0.14, 0.23), (-0.5, 0.13), (-0.88, 0.03), (-1.38, -0.09), (-1.86, -0.22), (-2.32, -0.35), (-2.75, -0.51), (-3.12, -0.69), (-3.44, -0.91), (-3.65, -1.14), (-3.78, -1.4), (-3.78, -1.6), (-3.69, -1.79), (-3.5, -2.0), (-3.24, -2.19), (-2.92, -2.31), (-2.55, -2.36), (-2.1, -2.35), (-1.67, -2.29), (-1.2, -2.18), (-0.78, -2.04), (-0.45, -1.88), (-0.19, -1.69), (0.02, -1.46), (0.2, -1.2), (0.36, -0.93), (0.5, -0.66)]
c3_green = [(-0.19, -0.22), (-0.12, -0.1), (-0.09, 0.03), (-0.25, 0.17), (-0.48, 0.28), (-0.73, 0.36), (-0.98, 0.39), (-1.23, 0.4), (-1.47, 0.37), (-1.83, 0.27), (-2.16, 0.08), (-2.48, -0.18), (-2.75, -0.51), (-2.93, -0.84), (-3.04, -1.2), (-3.06, -1.6), (-2.99, -1.99), (-2.9, -2.27), (-2.75, -2.48), (-2.52, -2.6), (-2.26, -2.63), (-1.9, -2.57), (-1.57, -2.48), (-1.27, -2.45), (-0.98, -2.39), (-0.76, -2.28), (-0.58, -2.14)]

c4_blue = [(-0.08, 0.14), (-0.45, 0.12), (-0.83, 0.08), (-1.35, 0.04), (-1.87, -0.03), (-2.4, -0.15), (-2.91, -0.32), (-3.23, -0.47), (-3.49, -0.67), (-3.68, -0.93), (-3.78, -1.24), (-3.79, -1.45), (-3.75, -1.65), (-3.64, -1.84), (-3.49, -1.99), (-3.25, -2.15), (-2.91, -2.26), (-2.45, -2.2), (-1.99, -2.11), (-1.45, -2.0), (-0.95, -1.88), (-0.6, -1.8), (-0.37, -1.71), (-0.22, -1.56), (-0.14, -1.36), (-0.07, -1.12), (-0.02, -0.9), (0.12, -0.7), (0.32, -0.55), (0.5, -0.42), (0.65, -0.26)]
c4_gray = [(-0.02, 0.14), (-0.2, 0.25), (-0.43, 0.31), (-0.7, 0.3), (-0.95, 0.25), (-1.4, 0.12), (-1.87, -0.03), (-2.35, -0.27), (-2.8, -0.55), (-3.12, -0.8), (-3.38, -1.07), (-3.52, -1.33), (-3.55, -1.59), (-3.5, -1.81), (-3.38, -1.99), (-3.12, -2.16), (-2.8, -2.28), (-2.35, -2.38), (-1.87, -2.42), (-1.45, -2.41), (-1.06, -2.34), (-0.75, -2.22), (-0.49, -2.05), (-0.24, -1.84), (-0.02, -1.59), (0.13, -1.41), (0.27, -1.24), (0.4, -1.12), (0.53, -1.01)]
c4_green = [(-0.1, 0.05), (-0.15, 0.25), (-0.25, 0.37), (-0.42, 0.45), (-0.6, 0.48), (-0.88, 0.47), (-1.18, 0.43), (-1.6, 0.33), (-1.99, 0.2), (-2.45, 0.01), (-2.91, -0.21), (-3.4, -0.48), (-3.84, -0.78), (-4.17, -1.05), (-4.42, -1.36), (-4.55, -1.65), (-4.59, -1.94), (-4.56, -2.13), (-4.47, -2.28), (-4.2, -2.48), (-3.84, -2.68), (-3.38, -2.79), (-2.91, -2.83), (-2.5, -2.84), (-2.1, -2.83), (-1.75, -2.87), (-1.41, -2.97), (-1.15, -3.08), (-0.95, -3.18), (-0.82, -3.15), (-0.72, -3.06), (-0.62, -2.93), (-0.54, -2.78)]

c5_blue = [(-0.13, 0.18), (-0.65, 0.12), (-1.16, 0.06), (-1.65, -0.02), (-2.13, -0.12), (-2.57, -0.22), (-2.97, -0.36), (-3.32, -0.57), (-3.58, -0.85), (-3.72, -1.08), (-3.76, -1.33), (-3.73, -1.58), (-3.64, -1.82), (-3.45, -1.99), (-3.22, -2.12), (-2.88, -2.23), (-2.49, -2.28), (-2.0, -2.22), (-1.52, -2.12), (-1.1, -2.0), (-0.68, -1.88), (-0.4, -1.75), (-0.19, -1.58), (-0.06, -1.35), (0.05, -1.09), (0.16, -0.84), (0.29, -0.61), (0.43, -0.41), (0.59, -0.24)]
c5_gray = [(-0.13, 0.3), (-0.4, 0.32), (-0.68, 0.3), (-1.05, 0.2), (-1.4, 0.06), (-1.9, -0.14), (-2.37, -0.36), (-2.82, -0.62), (-3.22, -0.91), (-3.58, -1.18), (-3.88, -1.46), (-4.02, -1.63), (-4.06, -1.82), (-3.93, -1.99), (-3.7, -2.12), (-3.3, -2.19), (-2.85, -2.21), (-2.37, -2.18), (-1.89, -2.12), (-1.4, -2.02), (-0.92, -1.88), (-0.55, -1.74), (-0.25, -1.58), (-0.04, -1.43), (0.17, -1.27), (0.43, -1.02), (0.65, -0.73)]
c5_green = [(0.11, -0.18), (0.0, -0.12), (-0.07, -0.06), (-0.08, 0.1), (-0.07, 0.24), (-0.25, 0.32), (-0.44, 0.36), (-0.68, 0.38), (-0.92, 0.42), (-1.3, 0.54), (-1.64, 0.61), (-1.9, 0.61), (-2.13, 0.55), (-2.4, 0.37), (-2.61, 0.12), (-2.8, -0.3), (-2.97, -0.73), (-3.25, -1.18), (-3.58, -1.58), (-3.95, -1.95), (-4.3, -2.25), (-4.58, -2.48), (-4.79, -2.67), (-4.72, -2.75), (-4.55, -2.77), (-4.05, -2.73), (-3.58, -2.67), (-2.97, -2.62), (-2.37, -2.61), (-1.85, -2.65), (-1.4, -2.73), (-0.95, -2.87), (-0.56, -3.01), (-0.3, -3.04), (-0.13, -3.03), (0.15, -3.01)]

rows = [
    [(a0_blue, a0_gray, a0_green), (a1_blue, a1_gray, a1_green), (a2_blue, a2_gray, a2_green),
     (a3_blue, a3_gray, a3_green), (a4_blue, a4_gray, a4_green), (a5_blue, a5_gray, a5_green)],
    [(b0_blue, b0_gray, b0_green), (b1_blue, b1_gray, b1_green), (b2_blue, b2_gray, b2_green),
     (b3_blue, b3_gray, b3_green), (b4_blue, b4_gray, b4_green), (b5_blue, b5_gray, b5_green)],
    [(c0_blue, c0_gray, c0_green), (c1_blue, c1_gray, c1_green), (c2_blue, c2_gray, c2_green),
     (c3_blue, c3_gray, c3_green), (c4_blue, c4_gray, c4_green), (c5_blue, c5_gray, c5_green)],
]

# axis windows
xlims = [
    [(-2.11, 1.41), (-2.07, 1.35), (-2.02, 1.78), (-2.02, 1.94), (-2.02, 1.73), (-2.6, 1.9)],
    [(-3.08, 1.65), (-3.09, 1.63), (-2.72, 2.56), (-3.02, 1.41), (-3.91, 2.09), (-4.93, 2.59)],
    [(-4.03, 1.04), (-4.13, 0.89), (-4.12, 3.40), (-4.03, 0.86), (-4.79, 0.9), (-5.03, 0.96)],
]
ylims = [
    [(-2.41, 1.06), (-2.56, 0.84), (-2.36, 1.46), (-2.06, 1.92), (-2.89, 0.88), (-1.69, 2.79)],
    [(-4.34, 0.33), (-4.34, 0.35), (-4.3, 1.02), (-4.29, 0.34), (-5.66, 0.41), (-7.02, 0.48)],
    [(-3.62, 1.46), (-3.77, 1.3), (-4.84, 2.87), (-3.56, 1.34), (-4.23, 1.5), (-4.25, 1.8)],
]
xsteps = [[1, 1, 1, 1, 1, 1], [1, 1, 1, 1, 2, 2], [1, 1, 2, 1, 1, 2]]
ysteps = [[0.5, 0.5, 0.5, 0.5, 0.5, 1], [1] * 6, [1] * 6]

palette = {"blue": "#4a6fe3", "gray": "#808080", "green": "#2e952e"}

W, H = 1196, 629
col_left = [35, 232, 430, 628, 825, 1023]
row_top = [9, 207, 405]
box = 164

fig = plt.figure(figsize=(W / 100, H / 100), dpi=100)
# grey band behind the first (noise-free) column
fig.patches.append(Rectangle((0, 0), 221 / W, 1, transform=fig.transFigure,
                             facecolor="#d9d9d9", edgecolor="none", zorder=-10))

for r, row in enumerate(rows):
    for c, curves in enumerate(row):
        ax = fig.add_axes([col_left[c] / W, 1 - (row_top[r] + box) / H, box / W, box / H])
        frames = []
        for name, pts in zip(series_names, curves):
            d = pd.DataFrame(pts, columns=["x", "y"])
            d["series"] = name
            frames.append(d)
        df = pd.concat(frames, ignore_index=True)
        sns.lineplot(data=df, x="x", y="y", hue="series", palette=palette,
                     sort=False, estimator=None, legend=False, ax=ax,
                     linewidth=1.5, alpha=0.9)
        ax.set_xlim(*xlims[r][c])
        ax.set_ylim(*ylims[r][c])
        ax.xaxis.set_major_locator(MultipleLocator(xsteps[r][c]))
        ax.yaxis.set_major_locator(MultipleLocator(ysteps[r][c]))
        ax.set_xlabel("")
        ax.set_ylabel("")
        ax.set_facecolor("white")
        ax.tick_params(labelsize=7.5, length=3, width=0.8, colors="#333333", pad=2)
        for sp in ax.spines.values():
            sp.set_color("#555555")
            sp.set_linewidth(0.9)

for c, lab in enumerate(noise_labels):
    fig.text((col_left[c] + box / 2) / W, 1 - 607 / H, "$" + lab + "$",
             ha="center", va="center", fontsize=22, color="black")

fig.savefig("out.png", dpi=100)
